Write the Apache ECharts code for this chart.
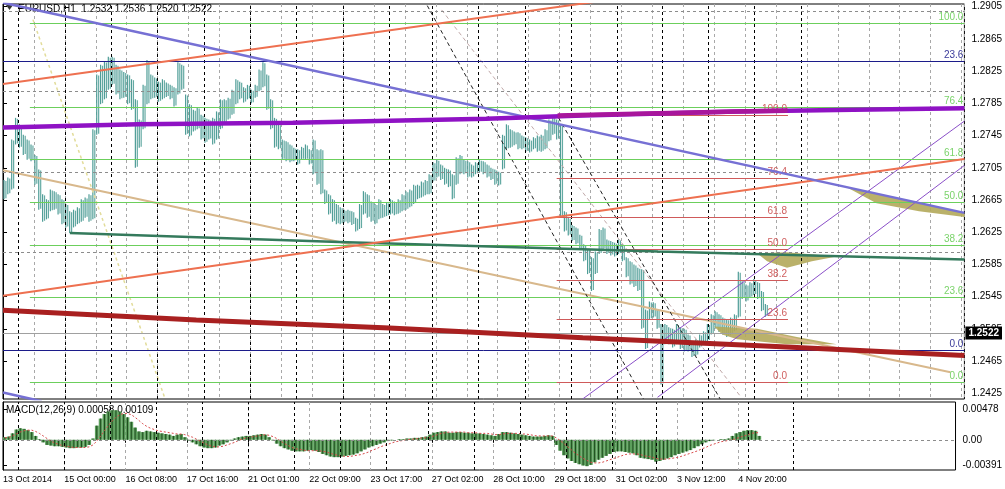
<!DOCTYPE html>
<html><head><meta charset="utf-8">
<script src="https://cdn.jsdelivr.net/npm/echarts@6.0.0/dist/echarts.min.js"></script>
<style>html,body{margin:0;padding:0;background:#fff}#c{width:1005px;height:489px}</style>
</head><body><div id="c"></div>
<script>
// ---------- DATA ----------
const timeLabels = ['13 Oct 2014','15 Oct 00:00','16 Oct 08:00','17 Oct 16:00','21 Oct 01:00','22 Oct 09:00','23 Oct 17:00','27 Oct 02:00','28 Oct 10:00','29 Oct 18:00','31 Oct 02:00','3 Nov 12:00','4 Nov 20:00'];
const labelHours = [0,32,64,96,128,160,192,224,256,288,320,352,384];
const daySeparators = [8,32,56,80,104,128,152,176,200,222,246,270,294,318,341,365,389,413];
const priceTicks = [1.2905,1.2865,1.2825,1.2785,1.2745,1.2705,1.2665,1.2625,1.2585,1.2545,1.2505,1.2465,1.2425];
const macdTicks = [0.00478,0,-0.00391];
const macdTickLabels = ['0.00478','0.00','-0.00391'];
const symbolTitle = 'EURUSD,H1  1.2532 1.2536 1.2520 1.2522';
const macdTitle = 'MACD(12,26,9) 0.00058 0.00109';
const lastClose = 1.2522;

// 2-hour bars (x = hour index of bar centre)
const highs = [1.2690,1.2693,1.2740,1.2767,1.2759,1.2746,1.2740,1.2734,1.2721,1.2703,
1.2672,1.2666,1.2678,1.2676,1.2672,1.2666,1.2660,1.2651,1.2653,1.2656,
1.2666,1.2668,1.2672,1.2753,1.2821,1.2833,1.2837,1.2843,1.2843,1.2833,
1.2827,1.2824,1.2821,1.2815,1.2790,1.2765,1.2808,1.2839,1.2821,1.2817,
1.2812,1.2815,1.2811,1.2808,1.2805,1.2836,1.2833,1.2796,1.2784,1.2777,
1.2780,1.2771,1.2767,1.2765,1.2767,1.2775,1.2790,1.2790,1.2792,1.2802,
1.2815,1.2812,1.2805,1.2808,1.2802,1.2808,1.2827,1.2836,1.2821,1.2790,
1.2767,1.2759,1.2740,1.2738,1.2734,1.2730,1.2728,1.2731,1.2734,1.2728,
1.2740,1.2728,1.2728,1.2678,1.2672,1.2666,1.2660,1.2656,1.2653,1.2653,
1.2651,1.2643,1.2660,1.2676,1.2672,1.2663,1.2660,1.2666,1.2660,1.2662,
1.2666,1.2663,1.2666,1.2672,1.2676,1.2678,1.2684,1.2684,1.2688,1.2690,
1.2697,1.2712,1.2715,1.2709,1.2705,1.2703,1.2697,1.2718,1.2721,1.2715,
1.2713,1.2709,1.2712,1.2715,1.2713,1.2709,1.2705,1.2703,1.2700,1.2746,
1.2759,1.2753,1.2750,1.2749,1.2745,1.2743,1.2740,1.2743,1.2745,1.2746,
1.2753,1.2765,1.2769,1.2765,1.2759,1.2651,1.2643,1.2634,1.2631,1.2622,
1.2610,1.2604,1.2594,1.2601,1.2629,1.2631,1.2616,1.2614,1.2612,1.2616,
1.2610,1.2594,1.2589,1.2585,1.2581,1.2579,1.2529,1.2539,1.2538,1.2529,
1.2511,1.2511,1.2507,1.2505,1.2511,1.2507,1.2505,1.2498,1.2490,1.2492,
1.2498,1.2502,1.2511,1.2523,1.2527,1.2523,1.2519,1.2517,1.2519,1.2523,
1.2576,1.2564,1.2560,1.2563,1.2567,1.2563,1.2552,1.2536];
const lows = [1.2666,1.2672,1.2678,1.2734,1.2730,1.2721,1.2715,1.2713,1.2684,1.2653,
1.2638,1.2641,1.2651,1.2653,1.2647,1.2635,1.2631,1.2624,1.2631,1.2635,
1.2638,1.2643,1.2638,1.2641,1.2746,1.2784,1.2790,1.2802,1.2808,1.2796,
1.2790,1.2792,1.2784,1.2777,1.2705,1.2730,1.2753,1.2784,1.2790,1.2792,
1.2787,1.2790,1.2793,1.2790,1.2781,1.2796,1.2802,1.2746,1.2744,1.2750,
1.2753,1.2740,1.2736,1.2740,1.2734,1.2740,1.2753,1.2759,1.2765,1.2771,
1.2784,1.2790,1.2786,1.2790,1.2785,1.2792,1.2800,1.2805,1.2777,1.2753,
1.2730,1.2728,1.2715,1.2713,1.2712,1.2713,1.2709,1.2715,1.2715,1.2709,
1.2697,1.2684,1.2672,1.2660,1.2647,1.2638,1.2635,1.2635,1.2637,1.2636,
1.2634,1.2626,1.2629,1.2647,1.2643,1.2638,1.2635,1.2641,1.2643,1.2645,
1.2647,1.2646,1.2648,1.2651,1.2653,1.2656,1.2660,1.2666,1.2668,1.2671,
1.2672,1.2688,1.2693,1.2690,1.2684,1.2681,1.2666,1.2684,1.2697,1.2697,
1.2693,1.2693,1.2697,1.2699,1.2697,1.2693,1.2690,1.2684,1.2683,1.2703,
1.2728,1.2730,1.2733,1.2728,1.2728,1.2725,1.2724,1.2728,1.2725,1.2725,
1.2728,1.2738,1.2746,1.2740,1.2643,1.2626,1.2621,1.2614,1.2610,1.2604,
1.2589,1.2573,1.2552,1.2573,1.2598,1.2604,1.2598,1.2596,1.2595,1.2598,
1.2589,1.2569,1.2560,1.2557,1.2552,1.2505,1.2480,1.2517,1.2519,1.2505,
1.2436,1.2486,1.2486,1.2482,1.2486,1.2480,1.2477,1.2477,1.2470,1.2472,
1.2482,1.2486,1.2490,1.2498,1.2505,1.2501,1.2498,1.2495,1.2497,1.2502,
1.2519,1.2542,1.2539,1.2544,1.2547,1.2542,1.2527,1.2520];

const macdHist = [0.0004,0.0005,0.0010,0.0016,0.0018,0.0017,0.0015,0.0012,0.0006,0.0001,
-0.0004,-0.0008,-0.0009,-0.0010,-0.0010,-0.0011,-0.0012,-0.0013,-0.0013,-0.0012,
-0.0012,-0.0011,-0.0008,0.0002,0.0022,0.0033,0.0040,0.0044,0.0046,0.0046,
0.0044,0.0040,0.0035,0.0028,0.0019,0.0013,0.0012,0.0014,0.0013,0.0012,
0.0011,0.0010,0.0009,0.0008,0.0006,0.0008,0.0009,0.0004,-0.0001,-0.0004,
-0.0007,-0.0010,-0.0012,-0.0013,-0.0013,-0.0012,-0.0009,-0.0007,-0.0004,-0.0001,
0.0002,0.0004,0.0005,0.0006,0.0006,0.0007,0.0008,0.0009,0.0008,0.0004,
-0.0001,-0.0006,-0.0010,-0.0013,-0.0015,-0.0017,-0.0018,-0.0018,-0.0018,-0.0017,
-0.0016,-0.0017,-0.0019,-0.0022,-0.0024,-0.0026,-0.0027,-0.0027,-0.0026,-0.0025,
-0.0024,-0.0023,-0.0021,-0.0018,-0.0015,-0.0012,-0.0010,-0.0008,-0.0006,-0.0004,
-0.0002,-0.0001,0.0000,0.0001,0.0001,0.0002,0.0002,0.0003,0.0003,0.0004,
0.0005,0.0008,0.0011,0.0012,0.0013,0.0013,0.0011,0.0011,0.0012,0.0012,
0.0011,0.0011,0.0010,0.0010,0.0010,0.0009,0.0008,0.0007,0.0006,0.0009,
0.0012,0.0012,0.0011,0.0010,0.0009,0.0008,0.0007,0.0006,0.0005,0.0005,
0.0005,0.0006,0.0007,0.0006,-0.0008,-0.0017,-0.0024,-0.0029,-0.0033,-0.0036,
-0.0038,-0.0040,-0.0041,-0.0039,-0.0035,-0.0031,-0.0028,-0.0025,-0.0022,-0.0019,
-0.0018,-0.0018,-0.0019,-0.0020,-0.0021,-0.0024,-0.0028,-0.0029,-0.0030,-0.0031,
-0.0034,-0.0033,-0.0031,-0.0029,-0.0027,-0.0024,-0.0022,-0.0020,-0.0018,-0.0016,
-0.0013,-0.0010,-0.0007,-0.0004,-0.0002,-0.0001,0.0000,0.0001,0.0001,0.0002,
0.0006,0.0010,0.0012,0.0014,0.0015,0.0015,0.0014,0.0006];
const macdSignal = [0.0003,0.0004,0.0006,0.0009,0.0012,0.0014,0.0015,0.0015,0.0013,0.0010,
0.0006,0.0002,-0.0002,-0.0005,-0.0007,-0.0009,-0.0010,-0.0011,-0.0012,-0.0012,
-0.0012,-0.0012,-0.0011,-0.0008,-0.0002,0.0006,0.0014,0.0022,0.0029,0.0035,
0.0039,0.0041,0.0041,0.0039,0.0035,0.0030,0.0025,0.0021,0.0018,0.0016,
0.0014,0.0013,0.0012,0.0011,0.0010,0.0009,0.0009,0.0008,0.0006,0.0004,
0.0001,-0.0002,-0.0005,-0.0008,-0.0010,-0.0011,-0.0011,-0.0010,-0.0008,-0.0006,
-0.0004,-0.0001,0.0001,0.0003,0.0004,0.0005,0.0006,0.0007,0.0008,0.0007,
0.0005,0.0002,-0.0002,-0.0006,-0.0009,-0.0012,-0.0014,-0.0015,-0.0016,-0.0017,
-0.0017,-0.0017,-0.0017,-0.0018,-0.0019,-0.0021,-0.0023,-0.0024,-0.0025,-0.0026,
-0.0026,-0.0025,-0.0024,-0.0023,-0.0021,-0.0019,-0.0016,-0.0014,-0.0011,-0.0009,
-0.0007,-0.0005,-0.0003,-0.0002,-0.0001,0.0000,0.0001,0.0001,0.0002,0.0003,
0.0003,0.0004,0.0006,0.0008,0.0010,0.0011,0.0012,0.0012,0.0012,0.0012,
0.0012,0.0011,0.0011,0.0011,0.0010,0.0010,0.0010,0.0009,0.0008,0.0008,
0.0009,0.0010,0.0010,0.0010,0.0010,0.0009,0.0009,0.0008,0.0007,0.0006,
0.0006,0.0006,0.0006,0.0006,0.0003,-0.0001,-0.0006,-0.0011,-0.0016,-0.0021,
-0.0025,-0.0029,-0.0032,-0.0035,-0.0036,-0.0036,-0.0035,-0.0033,-0.0031,-0.0029,
-0.0027,-0.0025,-0.0023,-0.0022,-0.0022,-0.0022,-0.0023,-0.0025,-0.0026,-0.0027,
-0.0029,-0.0030,-0.0030,-0.0030,-0.0029,-0.0028,-0.0027,-0.0025,-0.0023,-0.0021,
-0.0019,-0.0017,-0.0014,-0.0012,-0.0009,-0.0007,-0.0005,-0.0003,-0.0002,-0.0001,
0.0000,0.0002,0.0004,0.0006,0.0008,0.0010,0.0011,0.0011];

// indicator lines [hour, price]
const purpleMA = [[0,1.2755],[70,1.2759],[150,1.2761],[250,1.2766],[300,1.2770],[380,1.2775],[440,1.2777],[497.5,1.2779]];
const purpleMAHighlight = [[287,1.2770],[380,1.2775],[406,1.2776]];
const redMA = [[0,1.2528],[100,1.2516],[200,1.2506],[300,1.2494],[400,1.2483],[497.5,1.2472]];
const greenMA = [[34.6,1.2624],[173.9,1.2613],[339,1.2601],[497.5,1.2591]];
// trendlines [hour, price]
const orangeUpper = [[0,1.2809],[330,1.2919]];
const orangeLower = [[0,1.2546],[497.5,1.2716]];
const slateLine = [[0,1.2910],[497.5,1.2649]];
const slateLine2 = [[0,1.2426],[20,1.2415]];
const tanLine = [[0,1.2702],[490.3,1.2451]];
const yellowDotted = [[15.5,1.2889],[83.6,1.2420]];
const blackDash1 = [[217.8,1.2914],[331.4,1.2418]];
const blackDash2 = [[287.5,1.2767],[371.1,1.2418]];
const grayDash1 = [[227,1.2901],[382,1.2420]];
const purpleChan1 = [[300,1.2418],[497.5,1.2763]];
const purpleChan2 = [[338.7,1.2420],[497.5,1.2708]];
// fibonacci
const greenFibLevels = [1.2885,1.2780,1.2715,1.2662,1.2609,1.2544,1.2439];
const greenFibNames = ['100.0','76.4','61.8','50.0','38.2','23.6','0.0'];
const greenFibSpan = [13.9,497.5];
const redFibLevels = [1.2770,1.2692,1.2643,1.2604,1.2565,1.2517,1.2439];
const redFibNames = ['100.0','76.4','61.8','50.0','38.2','23.6','0.0'];
const redFibSpan = [286.5,406.2];
const navyLevels = [1.2837,1.2478];
const navyNames = ['23.6','0.0'];
// filled shapes [hour, price]
const shapes = [
  [[436.6,1.2681],[497.5,1.2649],[497.5,1.2644],[474,1.2651],[452,1.2661]],
  [[390.2,1.2599],[405.7,1.2600],[431.4,1.2595],[418.6,1.2589],[405.7,1.2581],[395.4,1.2589]],
  [[368,1.2508],[390.2,1.2505],[410.8,1.2495],[431.4,1.2486],[405.7,1.2486],[379.9,1.2492],[372.2,1.2498]]
];

// ---------- CHART ----------
const X_MAX = 497.5;
const FONT = 'Liberation Sans';
const chart = echarts.init(document.getElementById('c'));

function seg(points, color, width, type, z, xi, yi){
  return {type:'line', xAxisIndex:xi||0, yAxisIndex:yi||0, data:points, showSymbol:false, symbol:'none', silent:true,
    lineStyle:{color:color, width:width, type:type||'solid'}, z:z||3, animation:false, clip:true};
}
function fibMarks(levels, names, span, color, labelColor){
  return levels.map((v,i)=>[
    {coord:[span[0], v], label:{show:true, formatter:names[i], position:'insideEndTop', color:labelColor, fontSize:10, fontFamily:FONT, distance:1}},
    {coord:[span[1], v]}
  ]);
}
function helper(marks, lineStyle, xi, yi, z){
  return {type:'line', xAxisIndex:xi, yAxisIndex:yi, data:[], silent:true, z:z||1,
    markLine:{symbol:'none', silent:true, animation:false, lineStyle:lineStyle, label:{show:false}, data:marks}};
}

const option = {
  animation:false,
  backgroundColor:'#ffffff',
  grid:[
    {left:3, top:4, width:964, height:395, show:true, borderColor:'#000', borderWidth:1},
    {left:3, top:402, width:964, height:68, show:true, borderColor:'#000', borderWidth:1}
  ],
  xAxis:[
    {type:'value', gridIndex:0, min:0, max:X_MAX, interval:16, axisLine:{show:false}, axisTick:{show:false}, axisLabel:{show:false},
      splitLine:{show:true, lineStyle:{color:'#a8a8a8', type:[3,3], width:1}}},
    {type:'value', gridIndex:1, min:0, max:X_MAX, interval:16, axisLine:{show:false},
      axisTick:{show:true, customValues:labelHours, length:3, lineStyle:{color:'#000'}},
      axisLabel:{show:true, customValues:labelHours, align:'left', margin:5, fontSize:9, fontFamily:FONT, color:'#000',
        formatter:function(v){const k=labelHours.indexOf(v); return k>=0?timeLabels[k]:'';}},
      splitLine:{show:true, lineStyle:{color:'#a8a8a8', type:[3,3], width:1}}}
  ],
  yAxis:[
    {type:'value', gridIndex:0, position:'right', min:1.24179, max:1.29084, splitLine:{show:false},
      axisLine:{show:true, lineStyle:{color:'#000'}},
      axisTick:{show:true, customValues:priceTicks, length:4, lineStyle:{color:'#000'}},
      axisLabel:{show:true, customValues:priceTicks, margin:7, fontSize:10, fontFamily:FONT, color:'#000', formatter:v=>v.toFixed(4)}},
    {type:'value', gridIndex:1, position:'right', min:-0.00470, max:0.00588, splitLine:{show:false},
      axisLine:{show:true, lineStyle:{color:'#000'}},
      axisTick:{show:true, customValues:macdTicks, length:4, lineStyle:{color:'#000'}},
      axisLabel:{show:true, customValues:macdTicks, margin:7, fontSize:10, fontFamily:FONT, color:'#000',
        formatter:function(v){let k=-1; macdTicks.forEach((t,i)=>{if(Math.abs(t-v)<1e-7)k=i;}); return k>=0?macdTickLabels[k]:'';}}}
  ],
  graphic:[
    {type:'polygon', shape:{points:[[6,5],[13,5],[9.5,10]]}, style:{fill:'#333'}},
    {type:'text', left:18, top:4, style:{text:symbolTitle, font:'10px "Liberation Sans"', fill:'#000'}},
    {type:'text', left:6, top:405, style:{text:macdTitle, font:'10px "Liberation Sans"', fill:'#000'}}
  ],
  series:[
    helper(priceTicks.map(v=>({yAxis:v})), {color:'#8c8c8c', type:[3,3], width:1}, 0, 0),
    helper(daySeparators.map(v=>({xAxis:v})), {color:'#000', type:[3,3], width:1}, 0, 0),
    helper(daySeparators.map(v=>({xAxis:v})), {color:'#000', type:[3,3], width:1}, 1, 1),
    helper([{yAxis:0}], {color:'#8c8c8c', type:[3,3], width:1}, 1, 1),
    // price bars (each 2-hour bar drawn as two hourly strokes)
    {type:'custom', xAxisIndex:0, yAxisIndex:0, z:2, clip:true, silent:true,
      data: highs.map((h,i)=>[2*i+1, h, lows[i]]),
      renderItem:function(params, api){
        const x=api.value(0);
        const a1=api.coord([x-0.5, api.value(1)]), a2=api.coord([x-0.5, api.value(2)]);
        const b1=api.coord([x+0.5, api.value(1)]), b2=api.coord([x+0.5, api.value(2)]);
        return {type:'group', children:[
          {type:'line', shape:{x1:a1[0], y1:a1[1], x2:a2[0], y2:a2[1]}, style:{stroke:'#4f9d97', lineWidth:1.2}},
          {type:'line', shape:{x1:b1[0], y1:b1[1]+1, x2:b2[0], y2:b2[1]-1}, style:{stroke:'#64aaa3', lineWidth:1.2}}
        ]};
      }},
    // fib levels
    {type:'line', xAxisIndex:0, yAxisIndex:0, data:[], silent:true, z:3,
      markLine:{symbol:'none', silent:true, animation:false, lineStyle:{color:'#6ccf5c', type:'solid', width:1}, data:fibMarks(greenFibLevels, greenFibNames, greenFibSpan, '#6ccf5c', '#7ad36a')}},
    {type:'line', xAxisIndex:0, yAxisIndex:0, data:[], silent:true, z:3,
      markLine:{symbol:'none', silent:true, animation:false, lineStyle:{color:'#cf5a5a', type:'solid', width:1}, data:fibMarks(redFibLevels, redFibNames, redFibSpan, '#cf5a5a', '#d06060')}},
    {type:'line', xAxisIndex:0, yAxisIndex:0, data:[], silent:true, z:3,
      markLine:{symbol:'none', silent:true, animation:false, lineStyle:{color:'#1c1c8a', type:'solid', width:1}, data:fibMarks(navyLevels, navyNames, [0, X_MAX], '#1c1c8a', '#3a3a9a')}},
    // bid line with price label
    {type:'line', xAxisIndex:0, yAxisIndex:0, data:[], silent:true, z:3,
      markLine:{symbol:'none', silent:true, animation:false, lineStyle:{color:'#a0a0a0', type:'solid', width:1},
        label:{show:true, position:'end', distance:1, formatter:lastClose.toFixed(4), backgroundColor:'#000', color:'#fff', padding:[2,3,1,3], fontSize:10, fontFamily:FONT, fontWeight:'bold'},
        data:[{yAxis:lastClose}]}},
    // filled shapes
    {type:'custom', xAxisIndex:0, yAxisIndex:0, z:4, silent:true, data: shapes.map((s,i)=>[s[0][0], s[0][1], i]),
      renderItem:function(params, api){
        const pts = shapes[params.dataIndex].map(p=>api.coord(p));
        return {type:'polygon', shape:{points:pts}, style:{fill:'#b3a95a', opacity:0.9}};
      }},
    seg(yellowDotted, '#e2dc9a', 1.5, [3,3], 4),
    seg(tanLine, '#d8b88c', 2, 'solid', 4),
    seg(grayDash1, '#c0a8a8', 1, [4,3], 4),
    seg(blackDash1, '#222', 1, [4,3], 4),
    seg(blackDash2, '#222', 1, [4,3], 4),
    seg(purpleChan1, '#8a4fc8', 1, 'solid', 4),
    seg(purpleChan2, '#8a4fc8', 1, 'solid', 4),
    seg(greenMA, '#347a5c', 2.5, 'solid', 5),
    seg(orangeUpper, '#ee7050', 2, 'solid', 5),
    seg(orangeLower, '#ee7050', 2, 'solid', 5),
    seg(slateLine, '#7670d4', 2.5, 'solid', 5),
    seg(slateLine2, '#7670d4', 2.5, 'solid', 5),
    seg(redMA, '#a92020', 5, 'solid', 6),
    seg(purpleMA, '#8f12c4', 4.5, 'solid', 6),
    seg(purpleMAHighlight, '#a8169c', 4.5, 'solid', 7),
    // MACD
    {type:'custom', xAxisIndex:1, yAxisIndex:1, z:3, silent:true, clip:true,
      data: macdHist.map((v,i)=>[2*i+1, v]),
      renderItem:function(params, api){
        const x=api.value(0), v=api.value(1);
        const p0=api.coord([x,0]), p1=api.coord([x,v]);
        const w=api.size([2,0])[0];
        return {type:'group', children:[
          {type:'rect', shape:{x:p0[0]-w/2, y:Math.min(p0[1],p1[1]), width:w, height:Math.abs(p1[1]-p0[1])}, style:{fill:'#5b9e5b'}},
          {type:'line', shape:{x1:p0[0], y1:p0[1], x2:p1[0], y2:p1[1]}, style:{stroke:'#1d4a1d', lineWidth:1}}
        ]};
      }},
    seg(macdSignal.map((v,i)=>[2*i+1, v]), '#d84c4c', 1, [2,2], 4, 1, 1)
  ]
};
chart.setOption(option);
</script>
</body></html>
